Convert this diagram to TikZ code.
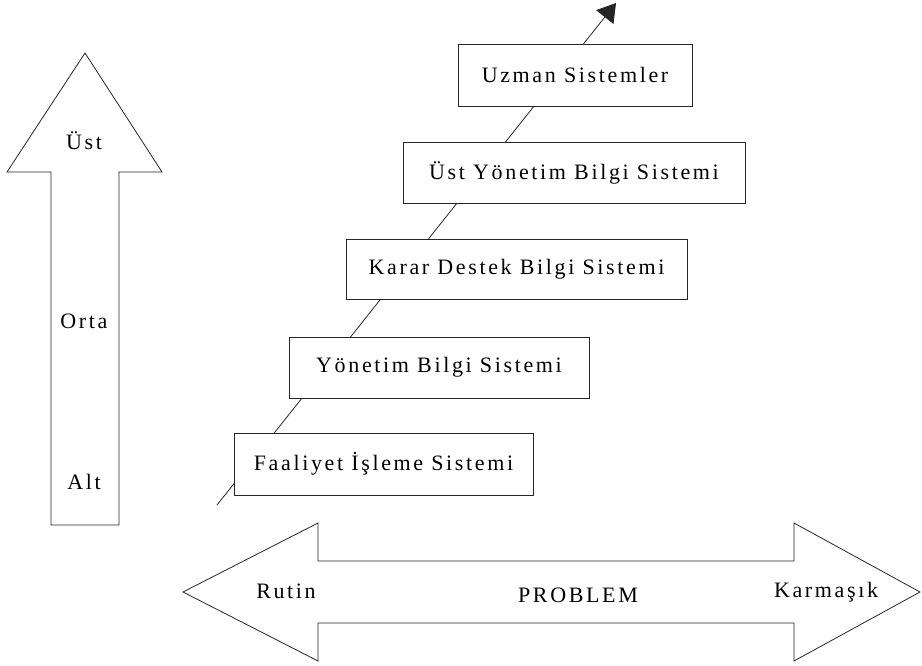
\documentclass[tikz,border=0pt]{standalone}
\usepackage{fontspec}
\setmainfont{Liberation Serif}[LetterSpace=12]
\usetikzlibrary{arrows.meta}
\begin{document}
\begin{tikzpicture}[x=1pt,y=-1pt,
  outline/.style={draw=black!85,line width=0.8pt},
  levelbox/.style={outline,fill=white,rectangle,inner sep=0pt,font=\fontsize{22}{26}\selectfont},
  label/.style={inner sep=0pt,font=\fontsize{22}{26}\selectfont},
  rise/.style={draw=black!85,line width=0.8pt,-{Triangle[length=18pt,width=22pt]}}]
\useasboundingbox (0,0) rectangle (922,666);

% vertical level arrow
\draw[outline] (85,53) -- (162,172) -- (119,172) -- (119,525) -- (51,525)
  -- (51,172) -- (7,172) -- cycle;
\node[label,anchor=base] (ust) at (84,150) {Üst};
\node[label,anchor=base] (orta) at (84,328) {Orta};
\node[label,anchor=base] (alt) at (84,489) {Alt};

% horizontal problem arrow
\draw[outline] (183,592) -- (318,523) -- (318,561) -- (794,561) -- (794,523)
  -- (920,592) -- (794,661) -- (794,623) -- (318,623) -- (318,661) -- cycle;
\node[label,anchor=base] (rutin) at (286,598) {Rutin};
\node[label,anchor=base] (problem) at (578,602) {PROBLEM};
\node[label,anchor=base] (karmasik) at (826,597) {Karmaşık};

% rising line behind the system boxes
\coordinate (riseStart) at (217,505);
\coordinate (riseEnd) at (616,3);
\draw[rise] (riseStart) -- (riseEnd);

% system boxes
\node[levelbox,minimum width=234pt,minimum height=62pt] (uzman) at (575,75) {Uzman Sistemler};
\node[levelbox,minimum width=342pt,minimum height=61pt] (uybs) at (574,172.5) {Üst Yönetim Bilgi Sistemi};
\node[levelbox,minimum width=341pt,minimum height=60pt] (kdbs) at (516.5,269) {Karar Destek Bilgi Sistemi};
\node[levelbox,minimum width=300pt,minimum height=61pt] (ybs) at (439,367.5) {Yönetim Bilgi Sistemi};
\node[levelbox,minimum width=299pt,minimum height=62pt] (fis) at (383.5,464) {Faaliyet İşleme Sistemi};
\end{tikzpicture}
\end{document}
